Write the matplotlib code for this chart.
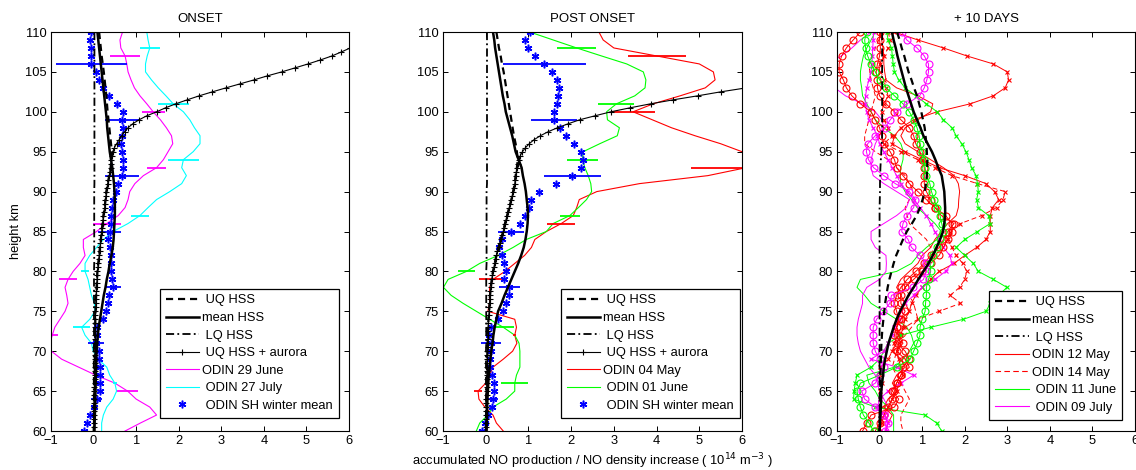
import matplotlib
matplotlib.use("Agg")
import matplotlib.pyplot as plt
from matplotlib.lines import Line2D

plt.rcParams['font.family'] = ['Liberation Sans', 'DejaVu Sans']

# ---------------- heights (top -> bottom) ----------------
height_km = list(range(110, 59, -1))                      # 1 km grid, 110..60
height_half = [110 - 0.5 * i for i in range(101)]         # 0.5 km grid, 110..60

# ---------------- panel 1: ONSET ----------------
p1_uq = [0.13, 0.15, 0.17, 0.19, 0.215, 0.24, 0.26, 0.28, 0.30, 0.315,
         0.33, 0.35, 0.37, 0.39, 0.41, 0.43, 0.42, 0.40, 0.37, 0.33,
         0.30, 0.28, 0.26, 0.23, 0.21, 0.19, 0.17, 0.15, 0.13, 0.11,
         0.09, 0.08, 0.07, 0.06, 0.05, 0.045, 0.04, 0.04, 0.035, 0.035,
         0.03, 0.03, 0.03, 0.025, 0.025, 0.02, 0.02, 0.015, 0.015, 0.01,
         0.01]
p1_mean = [0.09, 0.11, 0.13, 0.15, 0.17, 0.19, 0.21, 0.23, 0.25, 0.27,
           0.29, 0.31, 0.32, 0.34, 0.36, 0.38, 0.41, 0.44, 0.46, 0.48,
           0.49, 0.50, 0.50, 0.50, 0.49, 0.48, 0.47, 0.45, 0.42, 0.38,
           0.35, 0.31, 0.28, 0.24, 0.21, 0.18, 0.15, 0.12, 0.10, 0.085,
           0.07, 0.065, 0.06, 0.055, 0.05, 0.045, 0.04, 0.035, 0.03, 0.025,
           0.02]
p1_lq = [0.02, 0.02, 0.02, 0.02, 0.02, 0.02, 0.02, 0.02, 0.02, 0.02,
         0.02, 0.02, 0.02, 0.02, 0.02, 0.02, 0.02, 0.02, 0.02, 0.02,
         0.015, 0.015, 0.015, 0.015, 0.015, 0.015, 0.015, 0.015, 0.015, 0.015,
         0.01, 0.01, 0.01, 0.01, 0.01, 0.01, 0.01, 0.01, 0.01, 0.01,
         0.005, 0.005, 0.005, 0.005, 0.005, 0.005, 0.005, 0.005, 0.005, 0.005,
         0.0]
p1_aurora = [7.3, 7.0, 6.7, 6.35, 6.03, 5.82, 5.6, 5.33, 5.04, 4.73,
             4.42, 4.08, 3.77, 3.44, 3.11, 2.79, 2.48, 2.2, 1.93, 1.69,
             1.48, 1.25, 1.07, 0.92, 0.81, 0.73, 0.66, 0.6, 0.54, 0.49,
             0.45, 0.43, 0.42, 0.41, 0.40, 0.38, 0.37, 0.35, 0.33, 0.32,
             0.30, 0.29, 0.28, 0.27, 0.26, 0.245, 0.23, 0.22, 0.21, 0.20,
             0.19, 0.18, 0.17, 0.16, 0.15, 0.14, 0.13, 0.12, 0.11, 0.10,
             0.09, 0.085, 0.08, 0.075, 0.07, 0.065, 0.06, 0.055, 0.05, 0.05,
             0.045, 0.045, 0.04, 0.04, 0.04, 0.04, 0.035, 0.035, 0.035, 0.035,
             0.03, 0.03, 0.03, 0.03, 0.03, 0.025, 0.025, 0.025, 0.025, 0.02,
             0.02, 0.02, 0.02, 0.02, 0.015, 0.015, 0.015, 0.01, 0.01, 0.01,
             0.01]
p1_june29 = [0.68, 0.62, 0.64, 0.74, 0.78, 0.81, 0.88, 0.96, 1.09, 1.25,
             1.40, 1.57, 1.71, 1.83, 1.86, 1.75, 1.64, 1.48, 1.17, 0.97,
             0.85, 0.81, 0.74, 0.58, 0.31, 0.07, -0.24, -0.24, -0.20, -0.32,
             -0.48, -0.60, -0.67, -0.63, -0.60, -0.67, -0.79, -0.91, -0.97, -1.03,
             -0.99, -0.75, -0.35, 0.05, 0.50, 0.80, 1.00, 1.32, 1.48, 1.10,
             0.74]
p1_july27 = [1.25, 1.28, 1.32, 1.26, 1.22, 1.22, 1.36, 1.52, 1.70, 1.87,
             2.11, 2.26, 2.37, 2.50, 2.50, 2.34, 2.11, 2.07, 2.18, 2.07,
             1.79, 1.48, 1.28, 1.09, 0.81, 0.46, 0.23, 0.07, -0.09, -0.20,
             -0.20, -0.13, -0.09, -0.05, 0.02, 0.03, -0.09, -0.28, -0.20, -0.05,
             -0.01, 0.11, 0.31, 0.38, 0.50, 0.54, 0.46, 0.31, 0.23, 0.19,
             0.19]
p1_sh = [-0.05, -0.09, -0.07, -0.07, -0.05, 0.05, 0.13, 0.23, 0.36, 0.56,
         0.68, 0.67, 0.68, 0.66, 0.64, 0.66, 0.68, 0.70, 0.67, 0.58,
         0.52, 0.45, 0.44, 0.42, 0.41, 0.38, 0.33, 0.38, 0.40, 0.41,
         0.42, 0.44, 0.46, 0.36, 0.34, 0.29, 0.23, 0.07, 0.07, 0.05,
         0.13, 0.13, 0.15, 0.16, 0.16, 0.16, 0.07, 0.02, -0.09, -0.16,
         -0.22]
p1_sh_err_h = [106, 99, 92, 85, 78, 71, 64]
p1_sh_err = [0.83, 0.39, 0.39, 0.27, 0.19, 0.19, 0.12]
p1_june29_err_h = [107, 100, 93, 86, 79, 72, 65]
p1_june29_err = [0.35, 0.27, 0.23, 0.33, 0.22, 0.13, 0.25]
p1_july27_err_h = [108, 101, 94, 87, 80, 73, 66]
p1_july27_err = [0.23, 0.36, 0.37, 0.22, 0.09, 0.20, 0.04]

# ---------------- panel 2: POST ONSET ----------------
p2_uq = [0.25, 0.28, 0.31, 0.35, 0.38, 0.42, 0.45, 0.48, 0.51, 0.54,
         0.57, 0.60, 0.63, 0.66, 0.70, 0.73, 0.75, 0.73, 0.70, 0.68,
         0.64, 0.60, 0.55, 0.50, 0.45, 0.41, 0.35, 0.30, 0.25, 0.21,
         0.17, 0.14, 0.12, 0.10, 0.09, 0.08, 0.065, 0.056, 0.05, 0.045,
         0.04, 0.036, 0.032, 0.028, 0.024, 0.02, 0.018, 0.016, 0.014, 0.012,
         0.01]
p2_mean = [0.17, 0.20, 0.22, 0.25, 0.28, 0.31, 0.34, 0.37, 0.40, 0.44,
           0.47, 0.52, 0.57, 0.62, 0.66, 0.70, 0.77, 0.84, 0.87, 0.91,
           0.94, 0.96, 0.98, 0.99, 0.98, 0.96, 0.93, 0.89, 0.83, 0.76,
           0.68, 0.60, 0.52, 0.44, 0.37, 0.29, 0.25, 0.21, 0.18, 0.16,
           0.13, 0.11, 0.09, 0.07, 0.06, 0.05, 0.04, 0.035, 0.03, 0.025,
           0.02]
p2_lq = [0.03, 0.03, 0.03, 0.03, 0.03, 0.03, 0.03, 0.03, 0.03, 0.03,
         0.03, 0.03, 0.03, 0.03, 0.03, 0.03, 0.03, 0.03, 0.03, 0.03,
         0.02, 0.02, 0.02, 0.02, 0.02, 0.02, 0.02, 0.02, 0.02, 0.02,
         0.012, 0.012, 0.012, 0.012, 0.012, 0.012, 0.012, 0.012, 0.012, 0.012,
         0.006, 0.006, 0.006, 0.006, 0.006, 0.006, 0.006, 0.006, 0.006, 0.006,
         0.0]
p2_aurora = [17.0, 16.2, 15.4, 14.6, 13.8, 13.0, 12.2, 11.4, 10.6, 9.8,
             9.0, 8.2, 7.5, 6.8, 6.1, 5.5, 4.96, 4.39, 3.86, 3.38,
             2.93, 2.56, 2.2, 1.93, 1.68, 1.46, 1.28, 1.13, 1.02, 0.93,
             0.86, 0.81, 0.78, 0.755, 0.73, 0.715, 0.70, 0.69, 0.68, 0.66,
             0.64, 0.62, 0.60, 0.575, 0.55, 0.525, 0.50, 0.475, 0.45, 0.43,
             0.41, 0.38, 0.35, 0.325, 0.30, 0.275, 0.25, 0.23, 0.21, 0.19,
             0.17, 0.155, 0.14, 0.13, 0.12, 0.11, 0.10, 0.095, 0.09, 0.085,
             0.08, 0.07, 0.065, 0.06, 0.056, 0.053, 0.05, 0.048, 0.045, 0.042,
             0.04, 0.038, 0.036, 0.034, 0.032, 0.03, 0.028, 0.026, 0.024, 0.022,
             0.02, 0.019, 0.018, 0.017, 0.016, 0.015, 0.014, 0.013, 0.012, 0.01,
             0.01]
p2_may04 = [2.65, 2.75, 3.00, 4.00, 5.00, 5.33, 5.37, 5.14, 4.55, 3.92,
            3.45, 3.90, 4.35, 4.90, 5.50, 6.00, 6.80, 6.10, 5.20, 3.60,
            2.60, 2.19, 2.13, 2.05, 1.77, 1.42, 1.15, 1.07, 0.91, 0.68,
            0.45, 0.17, 0.09, 0.09, 0.09, 0.05, 0.68, 0.72, 0.68, 0.73,
            0.63, 0.41, 0.17, 0.09, 0.00, -0.18, -0.16, -0.02, 0.17, 0.25,
            0.41]
p2_june01 = [1.03, 1.58, 2.13, 2.71, 3.30, 3.69, 3.75, 3.73, 3.49, 3.06,
             2.83, 2.85, 3.13, 3.08, 2.67, 2.28, 2.27, 2.32, 2.40, 2.46,
             2.48, 2.36, 2.17, 1.97, 1.58, 1.42, 0.95, 0.64, 0.29, -0.14,
             -0.45, -0.88, -0.99, -0.81, -0.53, -0.22, 0.09, 0.41, 0.68, 0.78,
             0.80, 0.80, 0.80, 0.72, 0.68, 0.68, 0.48, 0.17, 0.05, -0.14,
             -0.22]
p2_sh = [1.03, 0.93, 0.98, 1.16, 1.37, 1.56, 1.66, 1.71, 1.70, 1.66,
         1.60, 1.60, 1.74, 1.88, 2.06, 2.23, 2.27, 2.22, 2.03, 1.64,
         1.25, 1.07, 1.01, 0.93, 0.80, 0.59, 0.39, 0.31, 0.38, 0.43,
         0.47, 0.42, 0.55, 0.55, 0.48, 0.41, 0.29, 0.13, 0.08, 0.12,
         0.13, 0.09, 0.09, 0.15, 0.19, 0.20, 0.16, 0.15, 0.05, -0.02,
         -0.08]
p2_sh_err_h = [106, 99, 92, 85, 78, 71, 64]
p2_sh_err = [0.97, 0.53, 0.66, 0.30, 0.25, 0.24, 0.12]
p2_may04_err_h = [107, 100, 93, 86, 79, 72, 65]
p2_may04_err = [0.68, 0.52, 1.30, 0.33, 0.32, 0.04, 0.09]
p2_june01_err_h = [108, 101, 94, 87, 80, 73, 66]
p2_june01_err = [0.45, 0.42, 0.36, 0.24, 0.19, 0.25, 0.32]

# ---------------- panel 3: + 10 DAYS ----------------
p3_uq = [0.41, 0.47, 0.52, 0.58, 0.63, 0.68, 0.75, 0.81, 0.88, 0.93,
         0.98, 1.02, 1.06, 1.08, 1.10, 1.11, 1.12, 1.12, 1.11, 1.09,
         1.06, 1.01, 0.95, 0.87, 0.76, 0.64, 0.55, 0.47, 0.39, 0.33,
         0.28, 0.23, 0.19, 0.16, 0.13, 0.11, 0.09, 0.07, 0.055, 0.045,
         0.035, 0.03, 0.025, 0.02, 0.02, 0.015, 0.01, 0.01, 0.005, 0.0,
         0.0]
p3_mean = [0.29, 0.33, 0.38, 0.42, 0.47, 0.52, 0.57, 0.62, 0.68, 0.74,
           0.80, 0.88, 0.96, 1.03, 1.13, 1.23, 1.31, 1.38, 1.46, 1.49,
           1.52, 1.53, 1.54, 1.54, 1.52, 1.49, 1.42, 1.34, 1.25, 1.15,
           1.03, 0.91, 0.80, 0.68, 0.58, 0.48, 0.40, 0.33, 0.27, 0.21,
           0.17, 0.13, 0.10, 0.08, 0.06, 0.04, 0.035, 0.03, 0.02, 0.01,
           0.0]
p3_lq = [0.06, 0.06, 0.06, 0.06, 0.06, 0.06, 0.06, 0.06, 0.06, 0.06,
         0.06, 0.06, 0.06, 0.06, 0.05, 0.04, 0.03, 0.02, 0.015, 0.01,
         0.01, 0.005, 0.0, 0.0, 0.0, 0.0, 0.0, 0.0, 0.0, 0.0,
         0.0, 0.0, 0.0, 0.0, 0.0, 0.0, 0.0, 0.0, 0.0, 0.0,
         0.0, 0.0, 0.0, 0.0, 0.0, 0.0, 0.0, 0.0, 0.0, 0.0,
         0.0]
may12 = [0.0, 0.05, 0.08, 0.1, 0.1, 0.12, 0.15, 0.4, 0.9, 1.25,
         1.2, 0.9, 0.6, 0.5, 0.6, 0.9, 1.2, 1.5, 1.75, 1.85,
         1.88, 1.86, 1.85, 1.8, 1.6, 1.45, 1.3, 1.2, 1.0, 0.9,
         0.7, 0.5, 0.4, 0.5, 0.6, 0.7, 0.5, 0.4, 0.5, 0.4,
         0.3, 0.5, 0.6, 0.4, 0.3, 0.4, 0.2, 0.1, 0.3, 0.2,
         0.15]
may12_x = [0.35, 0.9, 1.5, 2.05, 2.67, 3.0, 3.03, 2.95, 2.67, 2.13,
           1.35, 0.8, 0.5, 0.35, 0.3, 0.6, 1.0, 1.4, 2.0, 2.5,
           2.7, 2.8, 2.65, 2.6, 2.6, 2.6, 2.5, 2.28, 2.0, 1.75,
           1.4, 1.2, 1.0, 0.85, 0.75, 0.7, 0.6, 0.55, 0.5, 0.45,
           0.4, 0.45, 0.5, 0.55, 0.45, 0.4, 0.3, 0.2, 0.1, 0.05,
           0.0]
may12_o = [-0.45, -0.62, -0.78, -0.89, -0.95, -0.95, -0.85, -0.78, -0.65, -0.45,
           -0.2, -0.1, 0.0, 0.05, 0.1, 0.25, 0.35, 0.4, 0.55, 0.7,
           0.9, 1.1, 1.3, 1.55, 1.7, 1.7, 1.6, 1.5, 1.4, 1.2,
           1.0, 0.8, 0.6, 0.5, 0.5, 0.6, 0.5, 0.4, 0.45, 0.55,
           0.4, 0.6, 0.7, 0.5, 0.4, 0.3, 0.45, 0.35, -0.2, -0.3,
           -0.4]
may14 = [0.05, -0.02, -0.1, -0.18, -0.25, -0.23, -0.2, -0.15, -0.1, -0.15,
         -0.2, -0.25, -0.3, -0.35, -0.35, -0.1, 0.2, 0.4, 0.6, 0.7,
         0.8, 0.7, 0.6, 0.65, 0.7, 0.9, 1.1, 1.2, 1.3, 1.1,
         0.9, 0.75, 0.6, 0.7, 0.8, 0.85, 0.9, 0.75, 0.6, 0.5,
         0.4, 0.35, 0.3, 0.4, 0.5, 0.6, 0.7, 0.6, 0.5, 0.5,
         0.55]
may14_x = [0.2, 0.25, 0.2, 0.1, 0.0, 0.0, 0.1, 0.15, 0.2, 0.1,
           0.05, 0.1, 0.2, 0.3, 0.1, 0.5, 0.9, 1.3, 1.7, 2.3,
           2.95, 2.9, 2.75, 2.4, 1.9, 1.65, 1.6, 1.7, 1.8, 1.95,
           2.05, 2.0, 1.88, 1.66, 1.9, 1.4, 0.9, 0.6, 0.45, 0.35,
           0.3, 0.2, 0.0, 0.0, 0.05, 0.0, 0.0, 0.05, 0.0, 0.0,
           0.0]
may14_o = [0.0, 0.0, 0.02, 0.0, -0.05, -0.08, -0.05, -0.05, 0.0, 0.15,
           0.35, 0.5, 0.7, 0.8, 0.85, 0.95, 1.0, 1.05, 1.05, 1.05,
           1.1, 1.2, 1.3, 1.45, 1.75, 1.6, 1.5, 1.4, 1.2, 1.05,
           0.85, 0.65, 0.5, 0.4, 0.35, 0.4, 0.45, 0.4, 0.35, 0.4,
           0.6, 0.7, 0.55, 0.5, 0.4, 0.35, 0.3, 0.2, 0.1, 0.0,
           -0.1]
june11 = [-0.1, -0.2, -0.3, -0.38, -0.42, -0.45, -0.45, -0.42, -0.4, -0.3,
          -0.2, -0.1, 0.1, 0.35, 0.5, 0.56, 0.55, 0.5, 0.48, 0.5,
          0.6, 0.75, 0.88, 1.1, 1.3, 1.45, 1.35, 1.1, 0.9, 0.75,
          0.4, -0.45, -0.53, -0.35, -0.2, 0.1, 0.4, 0.64, 0.75, 0.8,
          0.7, 0.55, 0.35, -0.3, -0.25, -0.1, 0.0, 0.2, 0.33, 0.33,
          0.33]
june11_x = [0.17, 0.2, 0.28, 0.3, 0.32, 0.35, 0.45, 0.6, 0.85, 1.1,
            1.35, 1.5, 1.7, 1.8, 1.93, 2.03, 2.1, 2.16, 2.27, 2.3,
            2.32, 2.28, 2.32, 2.56, 2.6, 2.3, 2.0, 1.8, 2.0, 2.2,
            2.32, 2.67, 2.99, 2.8, 2.6, 2.5, 1.97, 1.2, 0.5, 0.2,
            0.1, 0.0, -0.2, -0.53, -0.57, -0.6, -0.61, -0.1, 1.07, 1.34,
            1.46]
june11_o = [-0.3, -0.35, -0.33, -0.28, -0.2, -0.1, 0.0, 0.16, 0.35, 0.55,
            0.7, 0.8, 0.88, 0.93, 0.95, 1.0, 1.05, 1.07, 1.1, 1.18,
            1.22, 1.28, 1.35, 1.42, 1.46, 1.5, 1.42, 1.35, 1.25, 1.19,
            1.2, 1.15, 1.1, 1.1, 1.08, 1.07, 1.0, 0.95, 0.95, 0.88,
            0.8, 0.72, 0.4, 0.0, -0.45, -0.53, -0.5, -0.45, -0.38, -0.25,
            -0.14]
july09 = [-0.2, -0.45, -0.65, -0.9, -1.2, -1.3, -1.2, -1.05, -0.8, -0.4,
          -0.1, 0.05, 0.1, 0.0, -0.1, -0.15, -0.2, -0.2, -0.15, 0.1,
          0.4, 0.7, 0.63, 0.4, 0.1, -0.2, -0.2, -0.1, 0.15, 0.16,
          0.15, 0.0, -0.3, -0.4, -0.4, -0.45, -0.5, -0.53, -0.53, -0.5,
          -0.45, -0.35, -0.25, -0.1, -0.05, 0.0, 0.1, 0.2, 0.2, 0.15,
          0.15]
july09_x = [-0.14, -0.15, -0.16, -0.17, -0.18, -0.2, -0.25, -0.3, -0.33, -0.34,
            -0.3, -0.25, -0.15, -0.05, 0.0, 0.1, 0.2, 0.3, 0.4, 0.5,
            0.65, 0.8, 0.95, 1.1, 1.2, 1.3, 1.4, 1.5, 1.65, 1.7,
            1.55, 1.3, 1.0, 0.8, 0.6, 0.5, 0.45, 0.35, 0.3, 0.2,
            0.1, -0.2, 0.4, 0.8, 0.5, 0.2, 0.0, -0.05, 0.1, 0.2,
            0.15]
july09_o = [0.52, 0.64, 0.88, 1.05, 1.15, 1.15, 1.11, 1.05, 0.94, 0.64,
            0.41, 0.25, 0.13, -0.1, -0.28, -0.31, -0.26, -0.14, 0.1, 0.37,
            0.7, 0.84, 0.8, 0.65, 0.55, 0.52, 0.67, 0.75, 0.95, 1.1,
            1.1, 1.03, 0.79, 0.28, 0.24, 0.09, -0.07, -0.15, -0.15, -0.15,
            -0.1, 0.0, 0.1, 0.0, -0.1, -0.42, -0.35, -0.1, 0.1, 0.2,
            0.13]

titles = ['ONSET', 'POST ONSET', '+ 10 DAYS']
x_ticks = [-1, 0, 1, 2, 3, 4, 5, 6]
y_ticks = [60, 65, 70, 75, 80, 85, 90, 95, 100, 105, 110]

RED, GREEN, MAG, CYAN, BLUE = '#ff0000', '#00ff00', '#ff00ff', '#00ffff', '#0000ff'
ASTERISK = (6, 2, 0)
FS = 9.3

fig = plt.figure(figsize=(11.36, 4.70), dpi=100)
axes = [fig.add_axes([51 / 1136, 39 / 470, 298 / 1136, 399 / 470]),
        fig.add_axes([443 / 1136, 39 / 470, 299 / 1136, 399 / 470]),
        fig.add_axes([837 / 1136, 39 / 470, 298 / 1136, 399 / 470])]

UQ_STYLE = dict(color='k', lw=1.6, ls=(0, (3.2, 2.2)))
MEAN_STYLE = dict(color='k', lw=1.8, ls='-')
LQ_STYLE = dict(color='k', lw=1.3, ls=(0, (4.5, 1.8, 1.0, 1.8)))


def hss(ax, uq, mean, lq):
    ax.plot(uq, height_km, **UQ_STYLE)
    ax.plot(mean, height_km, **MEAN_STYLE)
    ax.plot(lq, height_km, **LQ_STYLE)


def aurora(ax, vals):
    ax.plot(vals, height_half, color='k', lw=0.8, marker='+', ms=4.5, mew=0.8)


def errbars(ax, series, hts, hw, color):
    xs = [series[110 - h] for h in hts]
    ax.errorbar(xs, hts, xerr=hw, fmt='none', ecolor=color, elinewidth=1.3, capsize=0)


def sh_mean(ax, vals, hts, hw):
    ax.plot(vals, height_km, ls='none', marker=ASTERISK, ms=5.5, color=BLUE, mew=1.1)
    errbars(ax, vals, hts, hw, BLUE)


# ---- panel 1 ----
ax = axes[0]
ax.plot(p1_june29, height_km, color=MAG, lw=0.8)
ax.plot(p1_july27, height_km, color=CYAN, lw=0.8)
errbars(ax, p1_june29, p1_june29_err_h, p1_june29_err, MAG)
errbars(ax, p1_july27, p1_july27_err_h, p1_july27_err, CYAN)
sh_mean(ax, p1_sh, p1_sh_err_h, p1_sh_err)
aurora(ax, p1_aurora)
hss(ax, p1_uq, p1_mean, p1_lq)

# ---- panel 2 ----
ax = axes[1]
ax.plot(p2_may04, height_km, color=RED, lw=0.8)
ax.plot(p2_june01, height_km, color=GREEN, lw=0.8)
errbars(ax, p2_may04, p2_may04_err_h, p2_may04_err, RED)
errbars(ax, p2_june01, p2_june01_err_h, p2_june01_err, GREEN)
sh_mean(ax, p2_sh, p2_sh_err_h, p2_sh_err)
aurora(ax, p2_aurora)
hss(ax, p2_uq, p2_mean, p2_lq)

# ---- panel 3 ----
ax = axes[2]
thin = 0.7
for vals, col, ls in [(may12, RED, '-'), (may14, RED, (0, (5, 3))),
                      (june11, GREEN, '-'), (july09, MAG, '-')]:
    ax.plot(vals, height_km, color=col, lw=thin, ls=ls)
for vals, col, ls in [(may12_x, RED, '-'), (may14_x, RED, (0, (5, 3))),
                      (june11_x, GREEN, '-'), (july09_x, MAG, '-')]:
    ax.plot(vals, height_km, color=col, lw=thin, ls=ls, marker='x', ms=3.5, mew=0.8)
for vals, col, ls in [(may12_o, RED, '-'), (may14_o, RED, '-'),
                      (june11_o, GREEN, '-'), (july09_o, MAG, '-')]:
    ax.plot(vals, height_km, color=col, lw=thin, ls=ls, marker='o', ms=5,
            mfc='none', mew=0.8)
hss(ax, p3_uq, p3_mean, p3_lq)

# ---- axes cosmetics ----
for i, ax in enumerate(axes):
    ax.set_xlim(-1, 6)
    ax.set_ylim(60, 110)
    ax.set_xticks(x_ticks)
    ax.set_yticks(y_ticks)
    ax.tick_params(direction='in', top=True, right=True, length=3.5, width=0.7,
                   labelsize=FS, pad=3)
    for s in ax.spines.values():
        s.set_linewidth(0.8)
    ax.set_title(titles[i], fontsize=9.5, pad=7)

axes[0].set_ylabel('height km', fontsize=FS, labelpad=2)
axes[1].set_xlabel('accumulated NO production / NO density increase ( 10$^{14}$ m$^{-3}$ )',
                   fontsize=FS, labelpad=3)


def legend_handles(extra):
    h = [Line2D([], [], **UQ_STYLE), Line2D([], [], **MEAN_STYLE), Line2D([], [], **LQ_STYLE)]
    return h + extra


aur_h = Line2D([], [], color='k', lw=0.8, marker='+', ms=4.5, mew=0.8)
sh_h = Line2D([], [], ls='none', marker=ASTERISK, ms=5.5, mew=1.1, color=BLUE)

leg_kw = dict(fontsize=FS, frameon=True, fancybox=False, framealpha=1,
              edgecolor='k', handlelength=2.6, handletextpad=0.25,
              labelspacing=0.43, borderpad=0.45, borderaxespad=0)

l1 = axes[0].legend(legend_handles([aur_h, Line2D([], [], color=MAG, lw=0.8),
                                    Line2D([], [], color=CYAN, lw=0.8), sh_h]),
                    [' UQ HSS', 'mean HSS', ' LQ HSS', ' UQ HSS + aurora', 'ODIN 29 June',
                     ' ODIN 27 July', ' ODIN SH winter mean'],
                    loc='lower right', bbox_to_anchor=(0.966, 0.033), **leg_kw)
l2 = axes[1].legend(legend_handles([aur_h, Line2D([], [], color=RED, lw=0.8),
                                    Line2D([], [], color=GREEN, lw=0.8), sh_h]),
                    [' UQ HSS', 'mean HSS', ' LQ HSS', ' UQ HSS + aurora', 'ODIN 04 May',
                     ' ODIN 01 June', ' ODIN SH winter mean'],
                    loc='lower right', bbox_to_anchor=(0.993, 0.033), **leg_kw)
l3 = axes[2].legend(legend_handles([Line2D([], [], color=RED, lw=0.8),
                                    Line2D([], [], color=RED, lw=0.8, ls=(0, (5, 3))),
                                    Line2D([], [], color=GREEN, lw=0.8),
                                    Line2D([], [], color=MAG, lw=0.8)]),
                    [' UQ HSS', 'mean HSS', ' LQ HSS', 'ODIN 12 May', 'ODIN 14 May',
                     ' ODIN 11 June', ' ODIN 09 July'],
                    loc='lower right', bbox_to_anchor=(0.956, 0.028), **leg_kw)
for lg in (l1, l2, l3):
    lg.get_frame().set_linewidth(0.9)

fig.savefig('out.png', dpi=100)
